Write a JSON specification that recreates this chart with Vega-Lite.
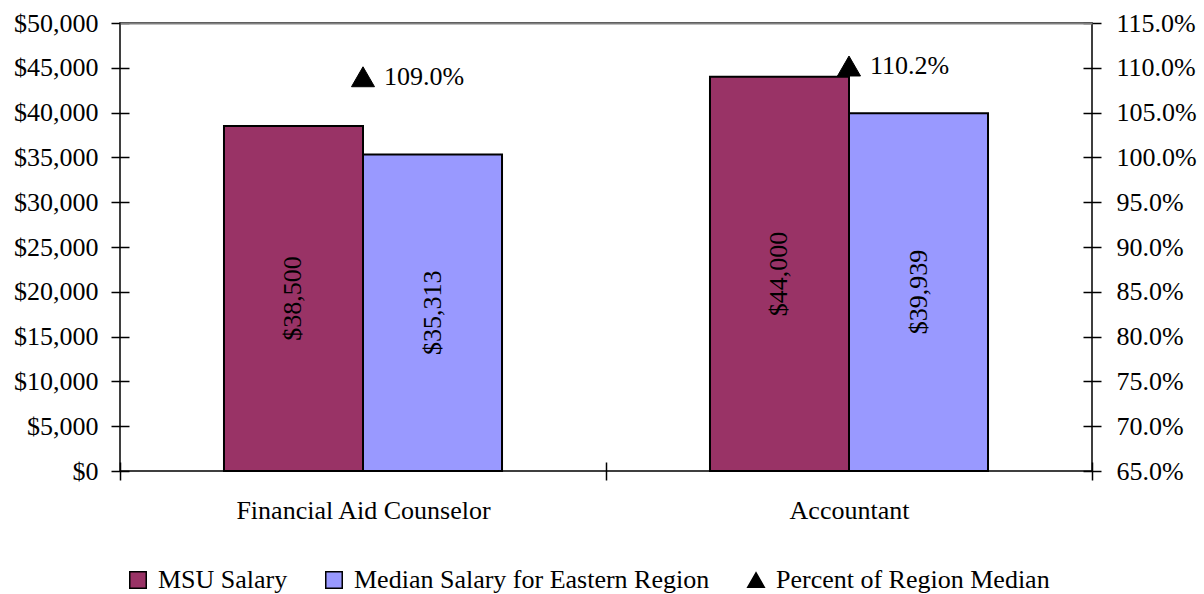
{
  "$schema": "https://vega.github.io/schema/vega-lite/v6.json",
  "width": 972,
  "height": 448,
  "autosize": {"type": "none"},
  "padding": {"left": 120, "top": 23, "right": 112, "bottom": 123},
  "background": "white",
  "config": {
    "font": "Liberation Serif",
    "text": {"font": "Liberation Serif"},
    "view": {"stroke": "black", "strokeWidth": 1.5},
    "axis": {
      "labelFont": "Liberation Serif",
      "labelFontSize": 26,
      "labelColor": "black",
      "labelLimit": 0,
      "tickColor": "black",
      "tickWidth": 1.5,
      "grid": false,
      "title": null
    },
    "legend": {
      "labelFont": "Liberation Serif",
      "labelFontSize": 26,
      "labelColor": "black",
      "labelLimit": 0,
      "symbolStrokeColor": "black",
      "symbolStrokeWidth": 1.5,
      "symbolSize": 272,
      "labelOffset": 7,
      "columnPadding": 33
    }
  },
  "datasets": {
    "salaries": [
      {"job": "Financial Aid Counselor", "series": "MSU Salary", "salary": 38500},
      {"job": "Financial Aid Counselor", "series": "Median Salary for Eastern Region", "salary": 35313},
      {"job": "Accountant", "series": "MSU Salary", "salary": 44000},
      {"job": "Accountant", "series": "Median Salary for Eastern Region", "salary": 39939}
    ],
    "ratios": [
      {"job": "Financial Aid Counselor", "series": "Percent of Region Median", "pct": 1.09},
      {"job": "Accountant", "series": "Percent of Region Median", "pct": 1.102}
    ]
  },
  "layer": [
    {
      "data": {"name": "salaries"},
      "transform": [{"calculate": "datum.salary / 2", "as": "mid"}],
      "encoding": {
        "x": {
          "field": "job",
          "type": "nominal",
          "sort": ["Financial Aid Counselor", "Accountant"],
          "scale": {"paddingInner": 0, "paddingOuter": 0},
          "axis": {
            "orient": "bottom",
            "domain": false,
            "offset": -9,
            "tickSize": 18,
            "tickBand": "extent",
            "labelAngle": 0,
            "labelPadding": 17
          }
        },
        "xOffset": {
          "field": "series",
          "type": "nominal",
          "scale": {
            "domain": ["MSU Salary", "Median Salary for Eastern Region"],
            "paddingInner": 0,
            "paddingOuter": 0.748
          }
        }
      },
      "layer": [
        {
          "mark": {"type": "bar", "stroke": "black", "strokeWidth": 2},
          "encoding": {
            "y": {
              "field": "salary",
              "type": "quantitative",
              "scale": {"domain": [0, 50000], "nice": false},
              "axis": {
                "orient": "left",
                "domain": false,
                "offset": -9,
                "tickSize": 18,
                "labelPadding": 13,
                "values": [0, 5000, 10000, 15000, 20000, 25000, 30000, 35000, 40000, 45000, 50000],
                "format": "$,.0f"
              }
            },
            "color": {
              "field": "series",
              "type": "nominal",
              "scale": {
                "domain": ["MSU Salary", "Median Salary for Eastern Region", "Percent of Region Median"],
                "range": ["#993366", "#9999FF", "black"]
              },
              "legend": {
                "title": null,
                "orient": "none",
                "direction": "horizontal",
                "legendX": 5,
                "legendY": 544
              }
            }
          }
        },
        {
          "mark": {"type": "text", "angle": 270, "fontSize": 26, "font": "Liberation Serif", "align": "center", "baseline": "middle", "color": "black"},
          "encoding": {
            "y": {"field": "mid", "type": "quantitative"},
            "text": {"field": "salary", "type": "quantitative", "format": "$,.0f"}
          }
        }
      ]
    },
    {
      "data": {"name": "ratios"},
      "encoding": {
        "x": {
          "field": "job",
          "type": "nominal",
          "sort": ["Financial Aid Counselor", "Accountant"],
          "scale": {"paddingInner": 0, "paddingOuter": 0},
          "axis": {
            "orient": "top",
            "domain": true,
            "domainColor": "#808080",
            "domainWidth": 2,
            "ticks": false,
            "labels": false,
            "zindex": 1
          }
        },
        "y": {
          "field": "pct",
          "type": "quantitative",
          "scale": {"domain": [0.65, 1.15], "nice": false, "zero": false},
          "axis": {
            "orient": "right",
            "domain": false,
            "offset": -9,
            "tickSize": 18,
            "labelPadding": 15,
            "values": [0.65, 0.7, 0.75, 0.8, 0.85, 0.9, 0.95, 1.0, 1.05, 1.1, 1.15],
            "format": ".1%"
          }
        }
      },
      "layer": [
        {
          "mark": {"type": "point", "filled": true, "size": 530, "opacity": 1, "stroke": "black", "strokeWidth": 1},
          "encoding": {
            "color": {"field": "series", "type": "nominal"},
            "shape": {
              "field": "series",
              "type": "nominal",
              "scale": {
                "domain": ["MSU Salary", "Median Salary for Eastern Region", "Percent of Region Median"],
                "range": ["square", "square", "triangle-up"]
              }
            }
          }
        },
        {
          "mark": {"type": "text", "align": "left", "baseline": "middle", "dx": 21, "fontSize": 26, "font": "Liberation Serif", "color": "black"},
          "encoding": {
            "text": {"field": "pct", "type": "quantitative", "format": ".1%"}
          }
        }
      ]
    }
  ],
  "resolve": {"scale": {"y": "independent"}, "axis": {"x": "independent"}}
}
